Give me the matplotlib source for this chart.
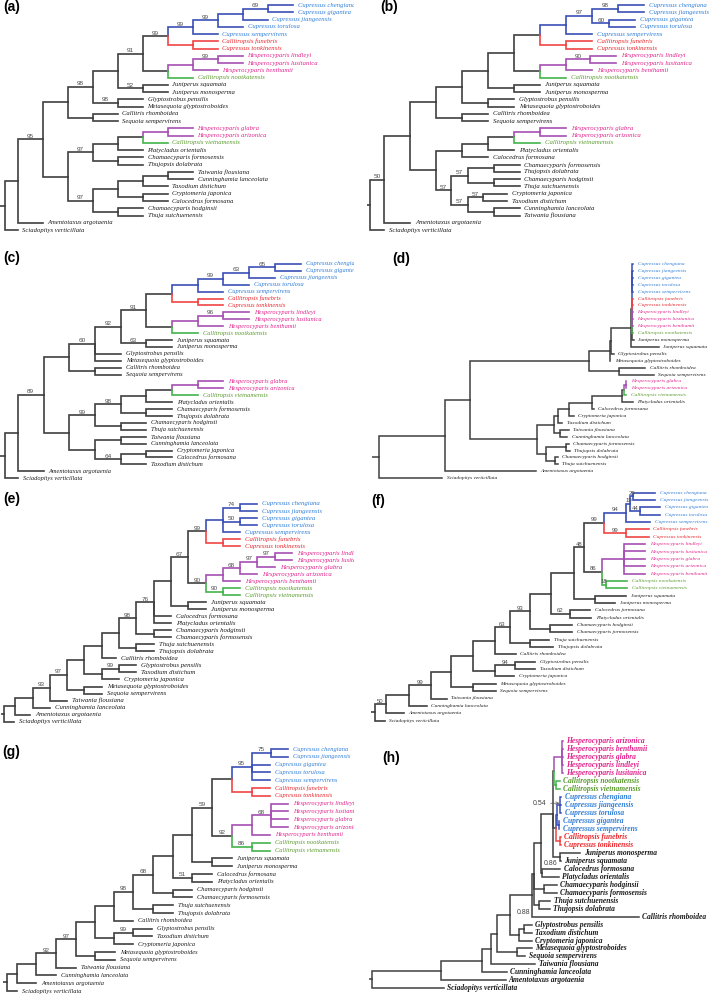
import matplotlib
matplotlib.use("Agg")
import matplotlib.pyplot as plt
import matplotlib.transforms as mtransforms

FIG_W, FIG_H = 709, 996

# ---------------- data ----------------
TAXA = {
    'Cch': 'Cupressus chengiana', 'Cgi': 'Cupressus gigantea', 'Cji': 'Cupressus jiangeensis',
    'Cto': 'Cupressus torulosa', 'Cse': 'Cupressus sempervirens', 'Cfu': 'Callitropsis funebris',
    'Cton': 'Cupressus tonkinensis', 'Hli': 'Hesperocyparis lindleyi', 'Hlu': 'Hesperocyparis lusitanica',
    'Hbe': 'Hesperocyparis benthamii', 'Hgl': 'Hesperocyparis glabra', 'Har': 'Hesperocyparis arizonica',
    'Cno': 'Callitropsis nootkatensis', 'Cvi': 'Callitropsis vietnamensis', 'Jsq': 'Juniperus squamata',
    'Jmo': 'Juniperus monosperma', 'Gpe': 'Glyptostrobus pensilis', 'Mgl': 'Metasequoia glyptostroboides',
    'Crh': 'Callitris rhomboidea', 'Sse': 'Sequoia sempervirens', 'Por': 'Platycladus orientalis',
    'Chf': 'Chamaecyparis formosensis', 'Tdo': 'Thujopsis dolabrata', 'Tfl': 'Taiwania flousiana',
    'Cla': 'Cunninghamia lanceolata', 'Tdi': 'Taxodium distichum', 'Cja': 'Cryptomeria japonica',
    'Cfo': 'Calocedrus formosana', 'Chh': 'Chamaecyparis hodginsii', 'Tsu': 'Thuja sutchuenensis',
    'Aar': 'Amentotaxus argotaenia', 'Sve': 'Sciadopitys verticillata',
}
BLUE_TAXA = ['Cch', 'Cgi', 'Cji', 'Cto', 'Cse']
RED_TAXA = ['Cfu', 'Cton']
MAGENTA_TAXA = ['Hli', 'Hlu', 'Hbe', 'Hgl', 'Har']
GREEN_TAXA = ['Cno', 'Cvi']

# trees (Newick, support values as node labels, branch lengths where not 1)
TREE_A = ("(" * 11 + "(Cch,Cgi)69,Cji),Cto)99,Cse)99,(Cfu,Cton))99,(((Hli,Hlu)99,Hbe),Cno))91,"
          "(Jsq,Jmo)52),(Gpe,Mgl)98)98,(Crh,Sse)),(((((Hgl,Har),Cvi),Por),(Chf,Tdo))97,"
          "((((Tfl,Cla),Tdi),(Cja,Cfo)),(Chh,Tsu))97))95,Aar):0.5,Sve:0.5);")

TREE_B = ("(" * 9 + "((Cch,Cji)98,(Cgi,Cto)60:0.65)97,Cse),(Cfu,Cton)),(((Hli,Hlu)90:0.9,Hbe),Cno)),"
          "(Jsq,Jmo)),(Gpe,Mgl)),(Crh,Sse)),(((((Hgl,Har),Cvi),Por),Cfo),(((Chf,Tdo),(Chh,Tsu))57:0.65,"
          "((Cja:0.95,Tdi:0.95)57:0.58,(Cla,Tfl))57:0.65)57:0.55)),Aar)50:0.55,Sve:0.55);")

TREE_C = ("(" * 11 + "(Cch,Cgi)65,Cji)63,Cto)99,Cse),(Cfu,Cton)),(((Hli,Hlu)96,Hbe),Cno))91,"
          "(Jsq,Jmo)63)92,Gpe,Mgl)60,(Crh,Sse)),((((((Hgl,Har),Cvi),Por),(Chf,Tdo))98,(Chh,Tsu))99,"
          "((Tfl,Cla),((Cja,Cfo),Tdi)64)))89,Aar):0.5,Sve:0.5);")

D_CORE = ("((Cch:0.02,Cji:0.02,Cgi:0.02,Cto:0.02,Cse:0.02):0.01,(Cfu:0.02,Cton:0.02):0.01,"
          "(Hli:0.02,Hlu:0.02,Hbe:0.02):0.01,Cno:0.03,Jmo:0.05):0.03")
D_UPPER = ("((((" + D_CORE + ",Jsq:0.83):0.6,Gpe:0.08):0.04,Mgl:0.02):0.63,"
           "(Crh:0.8,Sse:1.05):0.9):3.57")
D_LOWER = ("((((((((Hgl:0.02,Har:0.02):0.04,Cvi:0.06):0.07,Por:0.33):0.9,Cfo:0.05):0.7,Cja:0.15):0.33,"
           "Tdi:0.13):0.12,(Tfl:0.25,Cla:0.2):0.2):0.52,((Chf:0.07,Tdo:0.1):0.6,"
           "(Chh:0.07,Tsu:0.07):0.27):0.3):2.0")
TREE_D = "(((" + D_UPPER + "," + D_LOWER + "):0.76,Aar:2.73):1.97,Sve:1.9);"

TREE_E = ("(" * 11 + "((((Cch,Cji)74,(Cgi,Cto)50,Cse),(Cfu,Cton))99,"
          "(((((Hli,Hlu)97,Hgl)97,Har)68,Hbe),(Cno,Cvi)90)90)67,(Jsq,Jmo)),Cfo,Por)76,(Chh,Chf))98,"
          "(Tsu,Tdo)),Crh:0.8),((Gpe,Tdi)99,Cja)),(Mgl,Sse))97,Tfl)93,Cla),Aar:0.85):0.65,Sve:0.6);")

TREE_F = ("(" * 13 + "(((Cch:0.67,Cji:0.67)20:0.08,(Cgi:0.62,Cto:0.62)44:0.28)19:0.12,Cse:0.72)94:0.66,"
          "(Cfu:0.67,Cton:0.67)99:0.66)99:0.62,((Hli:0.65,Hlu:0.65,Hgl:0.65,Har:0.65,Hbe:0.65):0.65,"
          "(Cno:0.62,Cvi:0.62)18:0.13)86:0.55)48:0.3,(Jsq:0.93,Jmo:0.6):0.65):0.7,"
          "(Cfo:0.62,Por:0.64)62:0.58):0.62,(Chh:0.67,Chf:0.67):0.6)93:0.6,(Tsu:0.57,Tdo:0.69):0.6)63:0.45,"
          "Crh:0.62):0.65,((Gpe:0.6,Tdi:0.6)94:0.6,Cja:0.58):0.65):0.68,(Mgl:0.67,Sse:0.67):0.68):0.6,"
          "Tfl:0.48)99:0.65,Cla:0.53):0.7,Aar:0.55)50:0.33,Sve:0.3);")

TREE_G = ("(" * 13 + "((Cch:0.85,Cji:0.85)75,Cgi:0.93,Cto:0.93,Cse:0.93)95,(Cfu:0.93,Cton:0.93)),"
          "(((Hli:0.85,Hlu:0.85,Hgl:0.85,Har:0.85)68,Hbe:0.93),(Cno:0.93,Cvi:0.93)86)92)59,"
          "(Jsq,Jmo)),(Cfo,Por)51),(Chh,Chf))68,(Tsu,Tdo))98,Crh):0.93,((Gpe:0.93,Tdi:0.93)99,Cja):0.93),"
          "(Mgl,Sse))97,Tfl)92,Cla),Aar):0.5,Sve:0.5);")

TREE_H = ("(" * 10 + "((Har:0.03,Hbe:0.03,Hgl:0.03,Hli:0.03,Hlu:0.03):0.25,(Cno:0.1,Cvi:0.1):0.08):0.03,"
          "(((Cch:0.03,Cji:0.03,Cto:0.03)0.54:0.1,(Cgi:0.02,Cse:0.02):0.05):0.03,"
          "(Cfu:0.02,Cton:0.02):0.13):0.1,(Jmo:0.6,Jsq:0.02):0.23):0.35,"
          "(Cfo:0.55,Por:0.5)0.86:0.03):0.22,(Chh:0.38,Chf:0.38):0.32,(Tsu:0.35,Tdo:0.33):0.15):0.05,"
          "Crh:3.2)0.88:0.65,((Gpe:0.23,Tdi:0.23):0.17,Cja:0.4):0.25):0.4,(Mgl:0.45,Sse:0.25):0.6):0.2,"
          "Tfl:1.35):0.25,Cla:0.75):1.23,Aar:1.93):2.07,Sve:2.15);")

PANEL_LETTERS = ['(a)', '(b)', '(c)', '(d)', '(e)', '(f)', '(g)', '(h)']

# ---------------- style / layout ----------------
BRANCH_COLOR = {'blue': '#3a50b6', 'red': '#f04444', 'magenta': '#a64fb3', 'green': '#43b54a', None: '#404040'}
TEXT_COLOR = {'blue': '#2f7ed8', 'red': '#e8262b', 'magenta': '#e2228c', 'green': '#5a9a2e', None: '#1a1a1a'}

PANELS = [
    dict(tree=TREE_A, rect=(0, 0, 354, 250), rx=5.0, unit=25.0, tip0=5.0, step=7.26, stem=0.2,
         fs=4.8, gap=3.6, bold=False, lw=1.2, sfs=4.6, letter=(3, 7)),
    dict(tree=TREE_B, rect=(354, 0, 355, 250), rx=370.0, unit=26.0, tip0=5.0, step=7.26, stem=0.1,
         fs=4.85, gap=3.6, bold=False, lw=1.2, sfs=4.6, letter=(380, 7)),
    dict(tree=TREE_C, rect=(0, 250, 354, 240), rx=5.0, unit=25.7, tip0=264.0, step=6.91, stem=0.2,
         fs=4.6, gap=3.6, bold=False, lw=1.2, sfs=4.6, letter=(3, 258)),
    dict(tree=TREE_D, rect=(354, 250, 355, 240), rx=379.0, unit=33.3, tip0=264.0, step=6.91, stem=0.2,
         fs=3.9, gap=3.2, bold=False, lw=1.1, sfs=4.6, letter=(392, 259)),
    dict(tree=TREE_E, rect=(0, 490, 354, 245), rx=4.0, unit=17.3, tip0=504.0, step=7.02, stem=0.15,
         fs=4.9, gap=3.6, bold=False, lw=1.2, sfs=4.6, letter=(3, 499)),
    dict(tree=TREE_F, rect=(354, 484, 355, 250), rx=374.7, unit=33.3, tip0=492.7, step=7.35, stem=0.1,
         fs=3.85, gap=3.4, bold=False, lw=1.2, sfs=4.3, letter=(371, 501)),
    dict(tree=TREE_G, rect=(0, 738, 354, 258), rx=6.7, unit=19.7, tip0=749.0, step=7.81, stem=0.17,
         fs=4.6, gap=3.6, bold=False, lw=1.2, sfs=4.6, letter=(2, 752)),
    dict(tree=TREE_H, rect=(354, 733, 355, 263), rx=372.3, unit=33.3, tip0=741.0, step=7.98, stem=0.1,
         fs=5.45, gap=2.4, bold=True, lw=1.1, sfs=5.0, letter=(382, 758), custom_labels=True),
]

H_LABEL_STYLE = {
    '0.54': dict(dx=-0.42, dy=-0.2, ha='right', ref='node', arrow=True),
    '0.86': dict(dx=0.05, dy=-1.15, ha='left', ref='node', arrow=False),
    '0.88': dict(dx=-0.05, dy=-0.45, ha='right', ref='last', arrow=False),
}

TIP_CAT = {}
for _c in BLUE_TAXA:
    TIP_CAT[_c] = 'blue'
for _c in RED_TAXA:
    TIP_CAT[_c] = 'red'
for _c in MAGENTA_TAXA:
    TIP_CAT[_c] = 'magenta'
for _c in GREEN_TAXA:
    TIP_CAT[_c] = 'green'


class Node:
    def __init__(self):
        self.children = []
        self.name = ''
        self.label = ''
        self.length = None
        self.parent = None
        self.x = 0.0
        self.y = 0.0
        self.cat = None


def parse_newick(text):
    s = text.strip().rstrip(';')
    pos = 0

    def read():
        nonlocal pos
        node = Node()
        if s[pos] == '(':
            pos += 1
            while True:
                ch = read()
                ch.parent = node
                node.children.append(ch)
                if s[pos] == ',':
                    pos += 1
                elif s[pos] == ')':
                    pos += 1
                    break
                else:
                    raise ValueError('bad newick at %d' % pos)
        start = pos
        while pos < len(s) and s[pos] not in ',():':
            pos += 1
        txt = s[start:pos]
        if node.children:
            node.label = txt
        else:
            node.name = txt
        if pos < len(s) and s[pos] == ':':
            pos += 1
            start = pos
            while pos < len(s) and s[pos] not in ',()':
                pos += 1
            node.length = float(s[start:pos])
        return node

    root = read()
    if pos != len(s):
        raise ValueError('trailing newick text')
    return root


def layout(root):
    tips = []

    def walk(n, depth):
        n.x = depth
        if not n.children:
            n.y = float(len(tips))
            tips.append(n)
        else:
            for c in n.children:
                walk(c, depth + (1.0 if c.length is None else c.length))
            n.y = (n.children[0].y + n.children[-1].y) / 2.0

    walk(root, 0.0)
    return tips


def assign_cat(n):
    if not n.children:
        n.cat = TIP_CAT.get(n.name)
    else:
        cats = [assign_cat(c) for c in n.children]
        n.cat = cats[0] if all(c == cats[0] for c in cats) else None
    return n.cat


def all_nodes(n):
    yield n
    for c in n.children:
        yield from all_nodes(c)


def draw_edges(ax, n, lw):
    kids = sorted(n.children, key=lambda c: -abs(c.y - n.y))
    for c in kids:
        ax.plot([n.x, n.x, c.x], [n.y, c.y, c.y], color=BRANCH_COLOR[c.cat], lw=lw,
                solid_capstyle='projecting', solid_joinstyle='miter')
    for c in n.children:
        draw_edges(ax, c, lw)


fig = plt.figure(figsize=(FIG_W / 100, FIG_H / 100), dpi=100)
fig.patch.set_facecolor('white')

for cfg, letter in zip(PANELS, PANEL_LETTERS):
    L, T, Wd, Ht = cfg['rect']
    ax = fig.add_axes([L / FIG_W, 1 - (T + Ht) / FIG_H, Wd / FIG_W, Ht / FIG_H])
    ax.axis('off')
    rx, u = cfg['rx'], cfg['unit']
    ax.set_xlim((L - rx) / u, (L + Wd - rx) / u)
    t0, st = cfg['tip0'], cfg['step']
    ax.set_ylim((T + Ht - t0) / st, (T - t0) / st)

    root = parse_newick(cfg['tree'])
    tips = layout(root)
    assert len(tips) == 32, len(tips)
    assign_cat(root)
    lw = cfg['lw']
    ax.plot([-cfg['stem'], 0], [root.y, root.y], color=BRANCH_COLOR[None], lw=lw, solid_capstyle='butt')
    draw_edges(ax, root, lw)

    tip_tr = mtransforms.offset_copy(ax.transData, fig=fig, x=cfg['gap'], y=0, units='points')
    for t in tips:
        ax.text(t.x, t.y, TAXA[t.name], transform=tip_tr, ha='left', va='center',
                fontsize=cfg['fs'], family='Liberation Serif', style='italic',
                weight='bold' if cfg['bold'] else 'normal', color=TEXT_COLOR[t.cat], clip_on=True)

    if cfg.get('custom_labels'):
        for n in all_nodes(root):
            if n.children and n.label and n.parent is not None:
                spec = H_LABEL_STYLE[n.label]
                ry = (n.children[-1].y if spec['ref'] == 'last' else n.y) + spec['dy']
                if spec['arrow']:
                    ax.annotate(n.label, xy=(n.x - 0.03, ry), xytext=(n.x + spec['dx'], ry),
                                ha=spec['ha'], va='center', fontsize=cfg['sfs'], family='Liberation Sans',
                                color='#444444',
                                arrowprops=dict(arrowstyle='->', color='#555555', lw=0.5,
                                                shrinkA=1, shrinkB=0))
                else:
                    ax.text(n.x + spec['dx'], ry, n.label, ha=spec['ha'], va='center', fontsize=cfg['sfs'],
                            family='Liberation Sans', color='#444444')
    else:
        sup_tr = mtransforms.offset_copy(ax.transData, fig=fig, x=0, y=0.4, units='points')
        for n in all_nodes(root):
            if n.children and n.label and n.parent is not None:
                ax.text((n.parent.x + n.x) / 2.0, n.y, n.label, transform=sup_tr, ha='center',
                        va='bottom', fontsize=cfg['sfs'], family='Liberation Sans', color='#4d4d4d',
                        clip_on=True)

    lx, ly = cfg['letter']
    fig.text(lx / FIG_W, 1 - ly / FIG_H, letter, fontsize=10, fontweight='bold',
             family='Liberation Sans', ha='left', va='center')

fig.savefig('out.png', dpi=100, facecolor='white')
